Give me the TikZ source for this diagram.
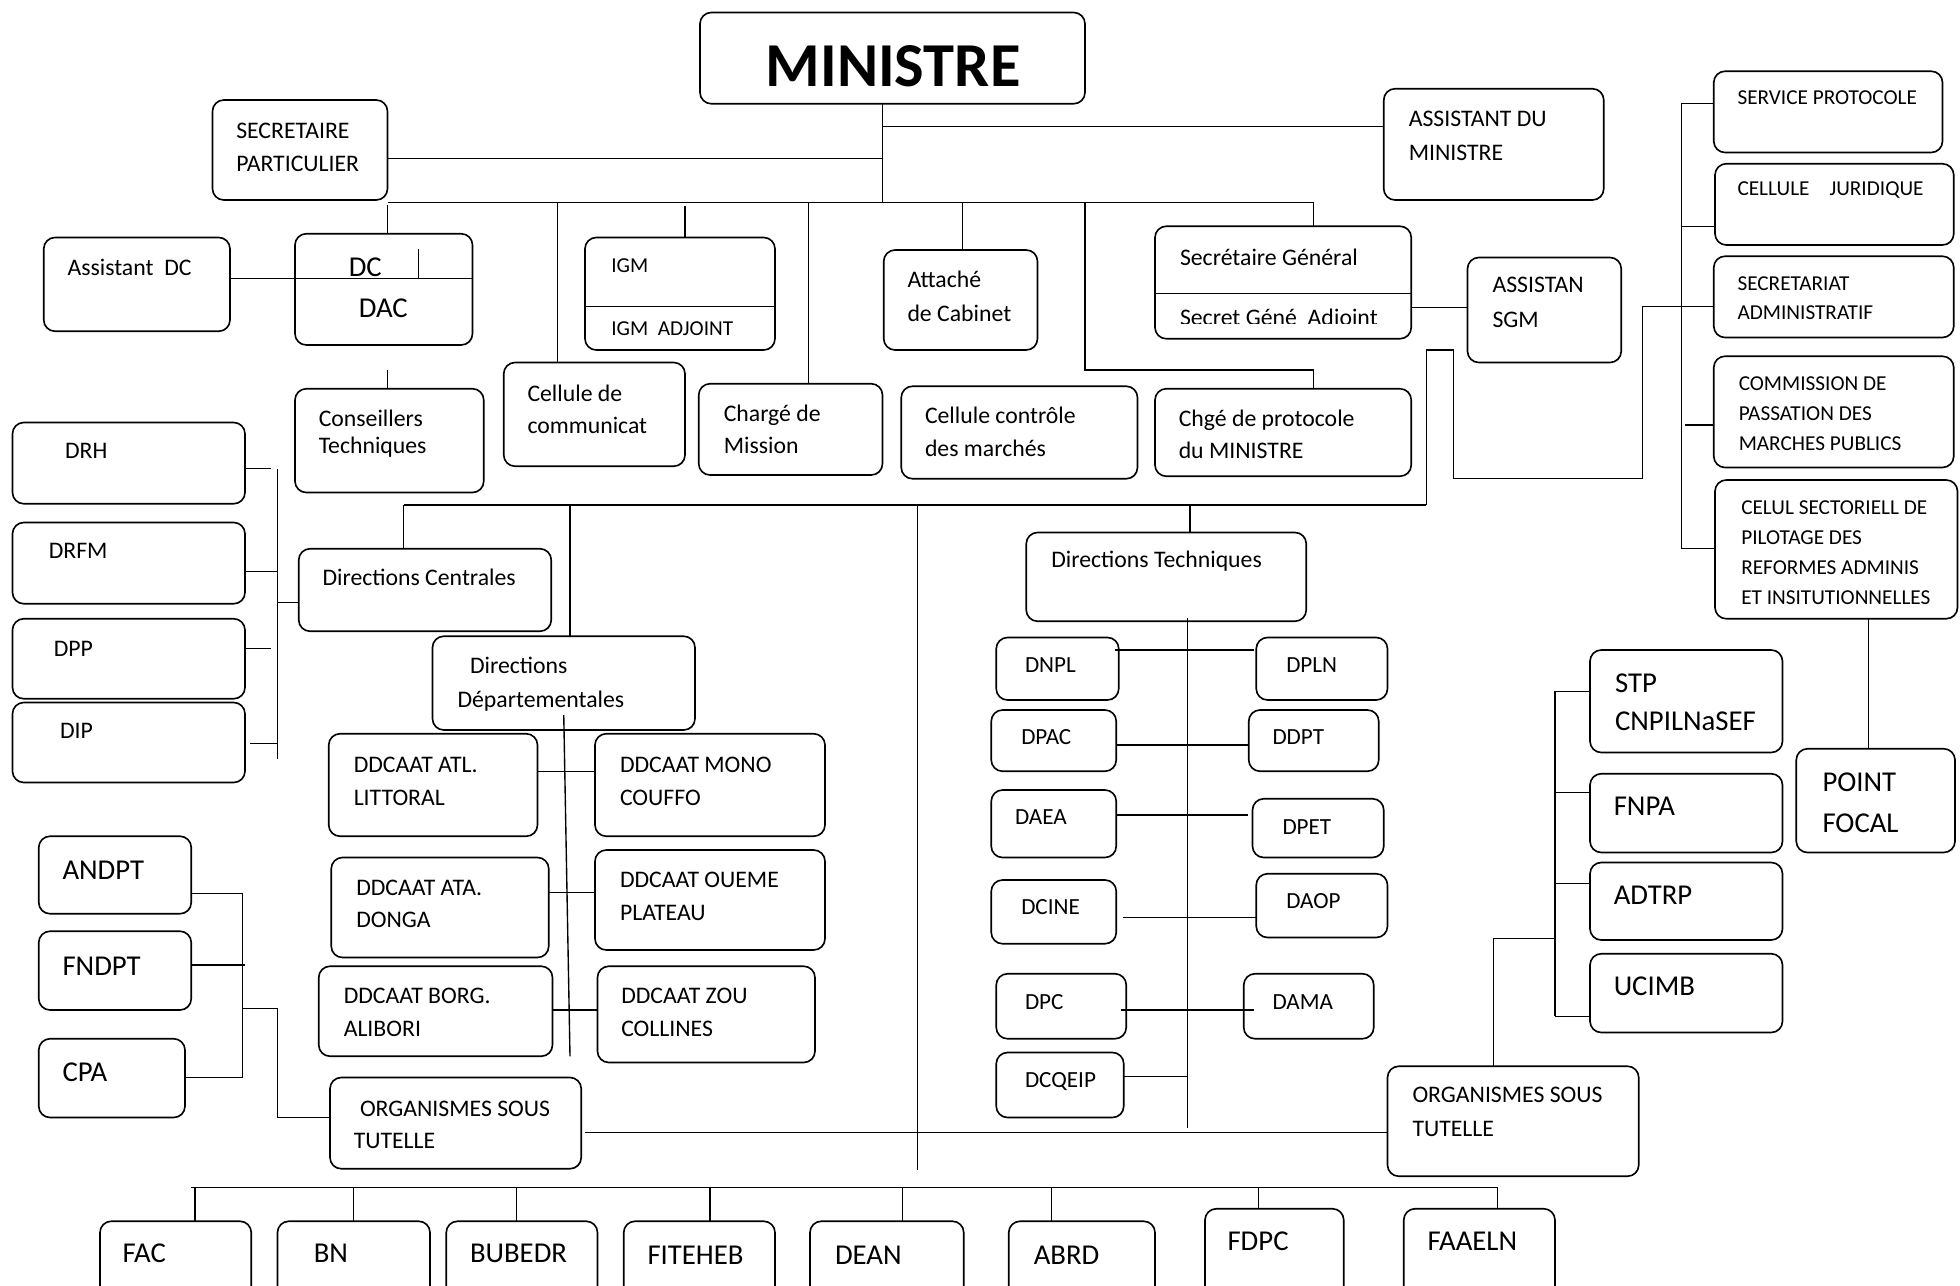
\documentclass[tikz,border=0pt]{standalone}
\usepackage{fontspec}
\setmainfont{Carlito}
\tikzset{
 box/.style={draw, line width=1.3pt, rounded corners=9pt, inner sep=0pt, outer sep=0pt, anchor=north west},
 ln/.style={line width=1.1pt},
 txt/.style={anchor=north west, inner sep=0pt, outer sep=0pt, align=left},
}
% box: name, x1, y1, x2, y2
\newcommand\bx[5]{\node[box, minimum width={#4-#2}, minimum height={#5-#3}] (#1) at (#2,#3) {};}
% text: name, x, y of first line centre, size, leading, text
\newcommand\tx[6]{\node[txt, font=\fontsize{#4}{#5}\selectfont] (#1) at (#2,{#3-0.484*#4}) {\rule{0pt}{0.8em}#6};}
\begin{document}
\begin{tikzpicture}[x=1pt,y=-1pt]
\fill[white] (0,0) rectangle (1568,1028);
\useasboundingbox (0,0) rectangle (1568,1028);
\clip (0,0) rectangle (1568,1028);

% ---------- boxes ----------
\bx{min}{560}{10}{868}{83}
\bx{sp}{170}{80}{310}{160}
\bx{am}{1107}{71}{1283}{160}
\bx{adc}{35}{190}{184}{265}
\bx{dc}{236}{187}{378}{276}
\bx{ct}{236}{311}{387}{394}
\bx{cc}{403}{290}{548}{373}
\bx{igm}{468}{190}{620}{280}
\bx{cm}{559}{307}{706}{380}
\bx{ac}{707}{200}{830}{280}
\bx{ccm}{721}{309}{910}{383}
\bx{sg}{924}{181}{1129}{271}
\bx{cp}{924}{311}{1129}{381}
\bx{asgm}{1174}{206}{1297}{290}
\bx{sprot}{1371}{57}{1554}{122}
\bx{cj}{1372}{131}{1563}{196}
\bx{sa}{1371}{205}{1563}{270}
\bx{cmp}{1371}{285}{1563}{374}
\bx{cs}{1372}{384}{1566}{495}
\bx{pf}{1437}{599}{1564}{682}
\bx{stp}{1272}{520}{1426}{602}
\bx{fnpa}{1272}{619}{1426}{682}
\bx{adtrp}{1272}{690}{1426}{752}
\bx{ucimb}{1272}{763}{1426}{826}
\bx{orgr}{1110}{853}{1311}{941}
\bx{drh}{10}{338}{196}{403}
\bx{drfm}{10}{418}{196}{483}
\bx{dpp}{10}{495}{196}{559}
\bx{dip}{10}{562}{196}{626}
\bx{dcen}{239}{439}{441}{505}
\bx{ddep}{346}{509}{556}{584}
\bx{atl}{263}{587}{430}{669}
\bx{mono}{476}{587}{660}{669}
\bx{ata}{265}{686}{439}{766}
\bx{oueme}{476}{680}{660}{760}
\bx{borg}{255}{773}{442}{845}
\bx{zou}{478}{773}{652}{850}
\bx{dt}{821}{426}{1045}{497}
\bx{dnpl}{797}{510}{895}{560}
\bx{dpln}{1005}{510}{1110}{560}
\bx{dpac}{793}{568}{893}{617}
\bx{ddpt}{999}{568}{1103}{617}
\bx{daea}{793}{632}{893}{686}
\bx{dpet}{1002}{639}{1107}{686}
\bx{dcine}{793}{704}{893}{755}
\bx{daop}{1005}{699}{1110}{750}
\bx{dpc}{797}{779}{901}{831}
\bx{dama}{995}{779}{1099}{831}
\bx{dcq}{797}{842}{899}{894}
\bx{andpt}{31}{669}{153}{731}
\bx{fndpt}{31}{745}{153}{808}
\bx{cpa}{31}{831}{148}{894}
\bx{orgl}{264}{862}{465}{935}
\bx{fac}{80}{977}{201}{1045}
\bx{bn}{222}{977}{344}{1045}
\bx{bub}{357}{977}{478}{1045}
\bx{fit}{499}{977}{620}{1045}
\bx{dean}{648}{977}{771}{1045}
\bx{abrd}{807}{977}{924}{1045}
\bx{fdpc}{964}{967}{1075}{1045}
\bx{faa}{1123}{967}{1244}{1045}

% ---------- texts ----------
\node[font=\fontsize{50}{50}\selectfont\bfseries, inner sep=0pt] (mint) at (714.5,53) {MINISTRE};
\tx{spt}{189}{104.5}{19}{26.5}{SECRETAIRE\\PARTICULIER}
\tx{amt}{1127}{95.5}{19}{26.5}{ASSISTANT DU\\MINISTRE}
\tx{adct}{54}{214}{19}{26}{Assistant\ \ DC}
\tx{dct1}{279}{214}{23}{23}{DC}
\tx{dct2}{287}{247}{23}{23}{DAC}
\tx{ctt}{255}{335}{19}{22}{Conseillers\\Techniques}
\tx{cct}{422}{315}{19}{26}{Cellule de\\communicat}
\tx{igmt1}{489}{213}{17}{24}{IGM}
\tx{igmt2}{489}{263}{17}{24}{IGM\ \ ADJOINT}
\tx{cmt}{579}{331}{19}{26}{Chargé de\\Mission}
\tx{act}{726}{224}{19}{27}{Attaché\\de Cabinet}
\tx{ccmt}{740}{333}{19}{26}{Cellule contrôle\\des marchés}
\tx{sgt1}{944}{206}{19}{26}{Secrétaire Général}
\begin{scope}
\clip (924,236) rectangle (1129,258.5);
\tx{sgt2}{944}{254}{19}{26}{Secret Géné\ \ Adjoint}
\end{scope}
\tx{cpt}{943}{335}{19}{26}{Chgé de protocole\\du MINISTRE}
\tx{asgmt}{1194}{228}{19}{28}{ASSISTAN\\SGM}
\tx{sprott}{1390}{78}{17}{24}{SERVICE PROTOCOLE}
\tx{cjt}{1390}{151}{17}{24}{CELLULE\hspace{16pt}JURIDIQUE}
\tx{sat}{1390}{227}{17}{23.5}{SECRETARIAT\\ADMINISTRATIF}
\tx{cmpt}{1391}{307}{17}{24}{COMMISSION DE\\PASSATION DES\\MARCHES PUBLICS}
\tx{cst}{1393}{406}{17}{24}{CELUL SECTORIELL DE\\PILOTAGE DES\\REFORMES ADMINIS\\ET INSITUTIONNELLES}
\tx{pft}{1458}{626}{23}{33}{POINT\\FOCAL}
\tx{stpt}{1292}{547}{23}{30}{STP\\CNPILNaSEF}
\tx{fnpat}{1291}{645}{23}{30}{FNPA}
\tx{adtrpt}{1291}{716}{23}{30}{ADTRP}
\tx{ucimbt}{1291}{789}{23}{30}{UCIMB}
\tx{orgrt}{1130}{876}{19}{27}{ORGANISMES SOUS\\TUTELLE}
\tx{drht}{52}{361}{19}{26}{DRH}
\tx{drfmt}{39}{441}{19}{26}{DRFM}
\tx{dppt}{43}{519}{19}{26}{DPP}
\tx{dipt}{48}{585}{19}{26}{DIP}
\tx{dcent}{258}{462}{19}{26}{Directions Centrales}
\tx{ddept}{366}{533}{19}{27}{\hspace*{10pt}Directions\\Départementales}
\tx{atlt}{283}{612}{19}{26}{DDCAAT ATL.\\LITTORAL}
\tx{monot}{496}{612}{19}{26}{DDCAAT MONO\\COUFFO}
\tx{atat}{285}{710}{19}{26}{DDCAAT ATA.\\DONGA}
\tx{ouemet}{496}{704}{19}{26}{DDCAAT OUEME\\PLATEAU}
\tx{borgt}{275}{797}{19}{26}{DDCAAT BORG.\\ALIBORI}
\tx{zout}{497}{797}{19}{26}{DDCAAT ZOU\\COLLINES}
\tx{dtt}{841}{448}{19}{26}{Directions Techniques}
\tx{dnplt}{820}{532}{18.5}{24}{DNPL}
\tx{dplnt}{1029}{532}{18.5}{24}{DPLN}
\tx{dpact}{817}{590}{18.5}{24}{DPAC}
\tx{ddptt}{1018}{590}{18.5}{24}{DDPT}
\tx{daeat}{812}{654}{18.5}{24}{DAEA}
\tx{dpett}{1026}{662}{18.5}{24}{DPET}
\tx{dcinet}{817}{726}{18.5}{24}{DCINE}
\tx{daopt}{1029}{721}{18.5}{24}{DAOP}
\tx{dpct}{820}{802}{18.5}{24}{DPC}
\tx{damat}{1018}{802}{18.5}{24}{DAMA}
\tx{dcqt}{820}{864}{18.5}{24}{DCQEIP}
\tx{andptt}{50}{696}{23}{30}{ANDPT}
\tx{fndptt}{50}{773}{23}{30}{FNDPT}
\tx{cpat}{50}{858}{23}{30}{CPA}
\tx{orglt}{283}{887}{19}{26}{\hspace*{5pt}ORGANISMES SOUS\\TUTELLE}
\tx{fact}{98}{1003}{23}{30}{FAC}
\tx{bnt}{251}{1003}{23}{30}{BN}
\tx{bubt}{376}{1003}{23}{30}{BUBEDR}
\tx{fitt}{518}{1004}{23}{30}{FITEHEB}
\tx{deant}{668}{1004}{23}{30}{DEAN}
\tx{abrdt}{827}{1004}{23}{30}{ABRD}
\tx{fdpct}{982}{993}{23}{30}{FDPC}
\tx{faat}{1142}{993}{23}{30}{FAAELN}

% ---------- connectors: top ----------
\coordinate (m1) at (706,101);
\coordinate (m2) at (706,127);
\coordinate (m3) at (706,162);
\coordinate (b1) at (1051,162);
\draw[ln] (m3 |- min.south) -- (m3);
\draw[ln] (m1) -- (m1 -| am.west);
\draw[ln] (m2 -| sp.east) -- (m2);
\draw[ln] (m3 -| sp.east) -- (b1) -- (b1 |- sg.north);
\coordinate (t1) at (310,164);
\coordinate (t2) at (446,162);
\coordinate (t3) at (548,165);
\coordinate (t4) at (647,162);
\coordinate (t5) at (770,162);
\coordinate (t6) at (868,162);
\coordinate (t6b) at (868,296);
\draw[ln] (t1) -- (t1 |- dc.north);
\draw[ln] (t2) -- (t2 |- cc.north);
\draw[ln] (t3) -- (t3 |- igm.north);
\draw[ln] (t4) -- (t4 |- cm.north);
\draw[ln] (t5) -- (t5 |- ac.north);
\draw[ln] (t6) -- (t6b) -| (b1 |- cp.north);
% DC / DAC
\coordinate (dcl) at (236,223);
\coordinate (dctk) at (335,199);
\draw[ln] (dcl) -- (dcl -| dc.east);
\draw[ln] (dctk) -- (dctk |- dcl);
\draw[ln] (adc.east |- dcl) -- (dc.west |- dcl);
\coordinate (ctk) at (310,296);
\draw[ln] (ctk) -- (ctk |- ct.north);
% IGM, SG inner lines
\coordinate (igl) at (468,245);
\draw[ln] (igl) -- (igl -| igm.east);
\coordinate (sgl) at (924,235);
\draw[ln] (sgl) -- (sgl -| sg.east);
\coordinate (sga) at (1129,246);
\draw[ln] (sg.east |- sga) -- (sga -| asgm.west);
% path to right column
\coordinate (p1) at (1141,404);
\coordinate (p2) at (1141,280);
\coordinate (p3) at (1163,280);
\coordinate (p4) at (1163,383);
\coordinate (p5) at (1314,383);
\coordinate (p6) at (1314,245);
\draw[ln] (p1) -- (p2) -- (p3) -- (p4) -- (p5) -- (p6) -- (p6 -| sa.west);
% right column
\coordinate (rc1) at (1345,83);
\coordinate (rc2) at (1345,439);
\coordinate (rcj) at (1345,181);
\coordinate (rcm) at (1348,340);
\draw[ln] (rc2) -- (rc1) -- (rc1 -| sprot.west);
\draw[ln] (rcj) -- (rcj -| cj.west);
\draw[ln] (rcm) -- (rcm -| cmp.west);
\draw[ln] (rc2) -- (rc2 -| cs.west);
\coordinate (pfc) at (1495,495);
\draw[ln] (pfc |- cs.south) -- (pfc |- pf.north);

% ---------- directions ----------
\coordinate (db1) at (323,404);
\coordinate (db2) at (456,404);
\coordinate (db3) at (734,404);
\coordinate (db3b) at (734,936);
\coordinate (db4) at (952,404);
\draw[ln] (db1) -- (p1);
\draw[ln] (db1) -- (db1 |- dcen.north);
\draw[ln] (db2) -- (db2 |- ddep.north);
\draw[ln] (db3) -- (db3b);
\draw[ln] (db4) -- (db4 |- dt.north);
% directions centrales
\coordinate (lv1) at (222,375);
\coordinate (lv2) at (222,607);
\draw[ln] (lv1) -- (lv2);
\coordinate (k1) at (217,375);
\coordinate (k2) at (222,457);
\coordinate (k3) at (217,519);
\coordinate (k4) at (222,595);
\coordinate (k5) at (222,482);
\draw[ln] (drh.east |- k1) -- (k1);
\draw[ln] (drfm.east |- k2) -- (k2);
\draw[ln] (dpp.east |- k3) -- (k3);
\draw[ln] ([xshift=4pt]dip.east |- k4) -- (k4);
\draw[ln] (k5) -- (k5 -| dcen.west);
% directions departementales
\coordinate (dv1) at (451,572);
\coordinate (dv2) at (456,845);
\draw[ln] (dv1) -- (dv2);
\coordinate (e1) at (450,617);
\coordinate (e2) at (450,714);
\coordinate (e3) at (450,808);
\draw[ln] (atl.east |- e1) -- (mono.west |- e1);
\draw[ln] (ata.east |- e2) -- (oueme.west |- e2);
\draw[ln] (borg.east |- e3) -- (zou.west |- e3);
% directions techniques
\coordinate (tv1) at (950,494);
\coordinate (tv2) at (950,902);
\draw[ln] (tv1) -- (tv2);
\coordinate (f1) at (950,520);
\coordinate (f2) at (950,596);
\coordinate (f3) at (950,652);
\coordinate (f4) at (950,734);
\coordinate (f5) at (950,808);
\coordinate (f6) at (950,861);
\draw[ln] ([xshift=-3pt]dnpl.east |- f1) -- ([xshift=-2pt]dpln.west |- f1);
\draw[ln] (dpac.east |- f2) -- (ddpt.west |- f2);
\draw[ln] (daea.east |- f3) -- ([xshift=-4pt]dpet.west |- f3);
\draw[ln] ([xshift=5pt]dcine.east |- f4) -- (daop.west |- f4);
\draw[ln] ([xshift=-4pt]dpc.east |- f5) -- ([xshift=8pt]dama.west |- f5);
\draw[ln] (dcq.east |- f6) -- (f6);

% ---------- organismes sous tutelle ----------
\coordinate (og) at (700,906);
\draw[ln] ([xshift=3pt]orgl.east |- og) -- (orgr.west |- og);
\coordinate (or1) at (1195,751);
\coordinate (rv1) at (1244,553);
\coordinate (rv2) at (1244,813);
\coordinate (rv3) at (1244,634);
\coordinate (rv4) at (1244,707);
\draw[ln] (or1 |- orgr.north) -- (or1) -- (or1 -| rv1);
\draw[ln] (rv1) -- (rv2);
\draw[ln] (rv1) -- (rv1 -| stp.west);
\draw[ln] (rv3) -- (rv3 -| fnpa.west);
\draw[ln] (rv4) -- (rv4 -| adtrp.west);
\draw[ln] (rv2) -- (rv2 -| ucimb.west);
% left group
\coordinate (lb1) at (194,715);
\coordinate (lb2) at (194,862);
\coordinate (lb3) at (196,772);
\draw[ln] (lb1) -- (lb2);
\draw[ln] (andpt.east |- lb1) -- (lb1);
\draw[ln] (fndpt.east |- lb3) -- (lb3);
\draw[ln] (cpa.east |- lb2) -- (lb2);
\coordinate (lp1) at (194,807);
\coordinate (lp2) at (222,807);
\coordinate (lp3) at (222,894);
\draw[ln] (lp1) -- (lp2) -- (lp3) -- (lp3 -| orgl.west);
% bottom bus
\coordinate (bb1) at (153,950);
\coordinate (bb2) at (1198,950);
\draw[ln] (bb1) -- (bb2);
\coordinate (g1) at (156,950);
\coordinate (g2) at (283,950);
\coordinate (g3) at (413,950);
\coordinate (g4) at (568,950);
\coordinate (g5) at (722,950);
\coordinate (g6) at (841,950);
\coordinate (g7) at (1007,950);
\draw[ln] (g1) -- (g1 |- fac.north);
\draw[ln] (g2) -- (g2 |- bn.north);
\draw[ln] (g3) -- (g3 |- bub.north);
\draw[ln] (g4) -- (g4 |- fit.north);
\draw[ln] (g5) -- (g5 |- dean.north);
\draw[ln] (g6) -- (g6 |- abrd.north);
\draw[ln] (g7) -- (g7 |- fdpc.north);
\draw[ln] (bb2) -- (bb2 |- faa.north);
\end{tikzpicture}
\end{document}
